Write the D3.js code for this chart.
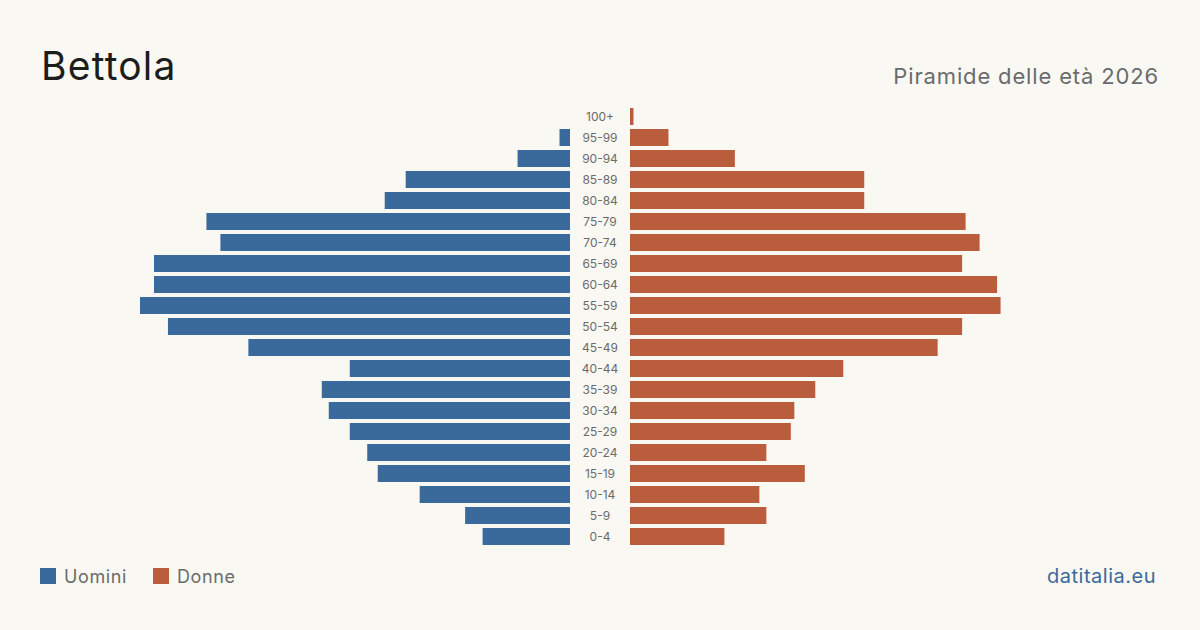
<!DOCTYPE html>
<html><head><meta charset="utf-8">
<script src="https://cdn.jsdelivr.net/npm/d3@7"></script>
<style>
html,body{margin:0;padding:0;background:#f9f8f3;}
svg{display:block;font-family:Inter,"Noto Sans",sans-serif;}
</style></head>
<body>
<svg id="c" width="1200" height="630"></svg>
<script>
const ageGroups = ["100+","95-99","90-94","85-89","80-84","75-79","70-74","65-69","60-64","55-59","50-54","45-49","40-44","35-39","30-34","25-29","20-24","15-19","10-14","5-9","0-4"];
const men   = [0,3,15,47,53,104,100,119,119,123,115,92,63,71,69,63,58,55,43,30,25];
const women = [1,11,30,67,67,96,100,95,105,106,95,88,61,53,47,46,39,50,37,39,27];
const legendLabels = ["Uomini","Donne"];
const title = "Bettola";
const subtitle = "Piramide delle età 2026";
const source = "datitalia.eu";

const W=1200,H=630;
const blue="#3a6a9b", orange="#b95d3d";
const svg=d3.select("#c");
svg.append("rect").attr("width",W).attr("height",H).attr("fill","#f9f8f3");

const maxV=d3.max(men.concat(women));
const xM=d3.scaleLinear().domain([0,maxV]).range([570,140]);
const xF=d3.scaleLinear().domain([0,maxV]).range([630,1060]);
const y=d3.scaleBand().domain(ageGroups).range([106,547]).paddingInner(4/21).paddingOuter(2/21);

svg.append("g").selectAll("rect").data(ageGroups).join("rect")
  .attr("x",(d,i)=>xM(men[i])).attr("y",d=>y(d))
  .attr("width",(d,i)=>xM(0)-xM(men[i])).attr("height",y.bandwidth()).attr("fill",blue);
svg.append("g").selectAll("rect").data(ageGroups).join("rect")
  .attr("x",xF(0)).attr("y",d=>y(d))
  .attr("width",(d,i)=>xF(women[i])-xF(0)).attr("height",y.bandwidth()).attr("fill",orange);
svg.append("g").selectAll("text").data(ageGroups).join("text")
  .attr("x",600).attr("y",d=>y(d)+y.bandwidth()/2).attr("dy","0.35em")
  .attr("text-anchor","middle").attr("font-size",12).attr("fill","#6b6b6b").text(d=>d);

svg.append("text").attr("x",41).attr("y",80).attr("font-size",39).attr("letter-spacing",1.2).attr("fill","#1d1d1b").text(title);
svg.append("text").attr("x",1159).attr("y",84).attr("text-anchor","end").attr("font-size",22).attr("letter-spacing",0.85).attr("fill","#6b6b6b").text(subtitle);

const lg=svg.append("g");
[0,1].forEach(i=>{
  const x0=i===0?40:153;
  lg.append("rect").attr("x",x0).attr("y",568).attr("width",16).attr("height",16).attr("fill",i===0?blue:orange);
  lg.append("text").attr("x",x0+24).attr("y",583).attr("font-size",18).attr("letter-spacing",0.6).attr("fill","#6b6b6b").text(legendLabels[i]);
});
svg.append("text").attr("x",1156).attr("y",583).attr("text-anchor","end").attr("font-size",20).attr("letter-spacing",0.5).attr("fill",blue).text(source);
</script>
</body></html>
